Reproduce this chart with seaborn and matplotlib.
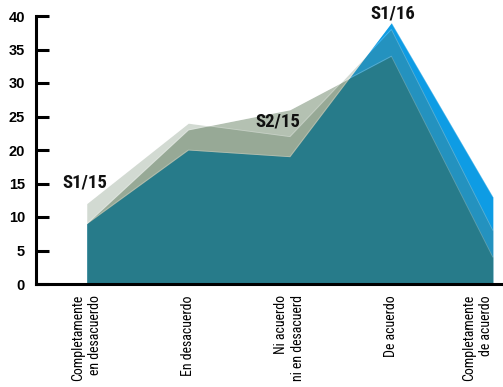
import matplotlib
matplotlib.use("Agg")
import matplotlib.pyplot as plt
from matplotlib import font_manager
from matplotlib.font_manager import FontProperties
import seaborn as sns
import numpy as np
import pandas as pd

categories = ["Completamente\nen desacuerdo", "En desacuerdo",
              "Ni acuerdo\nni en desacuerd", "De acuerdo",
              "Completamente\nde acuerdo"]
s1_15 = [12, 24, 22, 38, 8]
s2_15 = [9, 23, 26, 34, 4]
s1_16 = [9, 20, 19, 39, 13]
yticks = [0, 5, 10, 15, 20, 25, 30, 35, 40]

sns.set_theme(style="white")
plt.rcParams["font.family"] = ["Liberation Sans", "DejaVu Sans"]


def find_narrow(bold):
    prefs = ["Liberation Sans Narrow", "Arial Narrow", "Roboto Condensed",
             "DejaVu Sans Condensed", "DejaVu Sans", "Open Sans Condensed",
             "Noto Sans", "Open Sans", "Roboto", "Inter", "Lato"]
    cands = []
    for f in font_manager.fontManager.ttflist:
        nm = f.name
        st = str(f.stretch).lower()
        fn = f.fname.lower()
        is_narrow = ("condensed" in st or "narrow" in nm.lower()
                     or "condensed" in nm.lower() or "condensed" in fn
                     or "narrow" in fn)
        if not is_narrow or "semi" in fn or "semicondensed" in fn:
            continue
        if "italic" in fn or f.style != "normal":
            continue
        w = f.weight if isinstance(f.weight, int) else (700 if "bold" in str(f.weight) else 400)
        if bold and w < 600:
            continue
        if not bold and (w >= 600 or w < 350):
            continue
        rank = prefs.index(nm) if nm in prefs else len(prefs)
        cands.append((rank, f.fname))
    if cands:
        cands.sort()
        return cands[0][1]
    return None


reg_file = find_narrow(False)
bold_file = find_narrow(True)

if reg_file:
    fp_x = FontProperties(fname=reg_file, size=10)
else:
    fp_x = FontProperties(family=["Liberation Sans"], size=8.3)
if bold_file:
    fp_ann = FontProperties(fname=bold_file, size=13.5)
else:
    fp_ann = FontProperties(family=["Liberation Sans"], weight="bold", size=11)

fig = plt.figure(figsize=(5.03, 3.87), dpi=100)
ax = fig.add_axes([36 / 503, 103 / 387, 1 - 36 / 503, 268 / 387])

x = np.arange(len(categories))
df = pd.DataFrame({"x": x, "S1/15": s1_15, "S2/15": s2_15, "S1/16": s1_16})

# areas (blue drawn first, translucent greys on top)
ax.fill_between(df["x"], 0, df["S1/16"], color=(14 / 255, 156 / 255, 228 / 255), lw=0, zorder=1)
ax.fill_between(df["x"], 0, df["S1/15"], color=(96 / 255, 123 / 255, 96 / 255), alpha=0.28, lw=0, zorder=2)
ax.fill_between(df["x"], 0, df["S2/15"], color=(47 / 255, 83 / 255, 44 / 255), alpha=0.36, lw=0, zorder=3)
for col in ["S1/16", "S1/15", "S2/15"]:
    sns.lineplot(data=df, x="x", y=col, ax=ax, color="white", alpha=0.25,
                 linewidth=0.6, zorder=4)

ax.set_xlim(-0.5, 4.1)
ax.set_ylim(0, 40)
ax.set_xlabel("")
ax.set_ylabel("")

for s in ["top", "right"]:
    ax.spines[s].set_visible(False)
for s in ["left", "bottom"]:
    ax.spines[s].set_color("black")
    ax.spines[s].set_linewidth(2.2)
    ax.spines[s].set_zorder(6)

ax.set_yticks(yticks)
ax.set_yticklabels([str(v) for v in yticks], fontsize=10.5, fontweight="bold",
                   family=["Liberation Sans", "DejaVu Sans"], color="black")
ax.tick_params(axis="y", direction="in", length=9.5, width=2.2, color="black",
               pad=8, left=True)

ax.set_xticks(x)
ax.set_xticklabels(categories, rotation=90, va="top", ha="center",
                   multialignment="right", linespacing=1.25, color="black")
xlabels = ax.get_xticklabels()
for t in xlabels:
    t.set_fontproperties(fp_x)
xlabels[-1].set_ha("right")
ax.tick_params(axis="x", which="major", length=0, pad=8, bottom=True)
ax.set_xticks([0.5, 1.5, 2.5, 3.5], minor=True)
ax.tick_params(axis="x", which="minor", direction="in", length=5, width=2.2,
               color="black", bottom=True)

lbl = dict(fontproperties=fp_ann, ha="center", va="center",
           color="#111111", zorder=7, clip_on=False)
ax.text(-0.02, 15.1, "S1/15", **lbl)
ax.text(1.88, 24.2, "S2/15", **lbl)
ax.text(3.01, 40.3, "S1/16", **lbl)

fig.savefig("out.png", dpi=100)
